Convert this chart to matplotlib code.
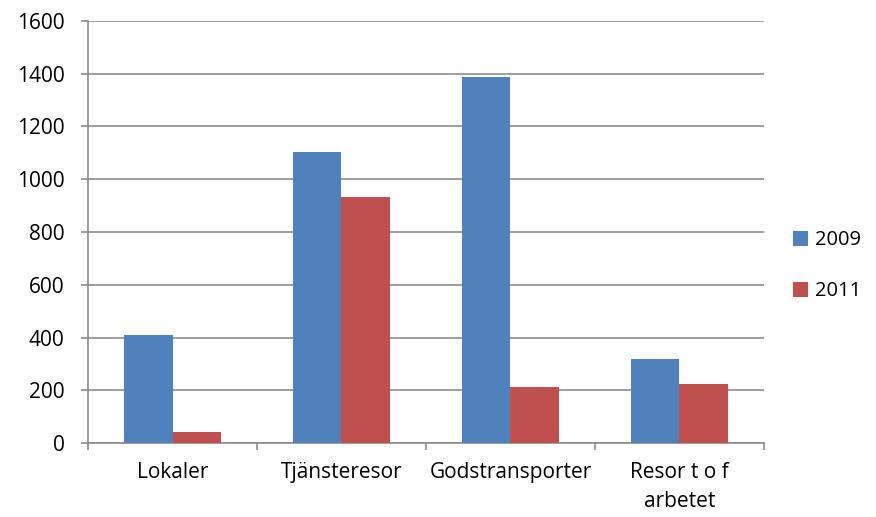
import numpy as np
import matplotlib.pyplot as plt

plt.rcParams['font.family'] = ['Open Sans', 'DejaVu Sans']

categories = ['Lokaler', 'Tjänsteresor', 'Godstransporter', 'Resor t o f\narbetet']
v2009 = [410, 1105, 1388, 320]
v2011 = [40, 933, 213, 222]

fig = plt.figure(figsize=(8.76, 5.17), dpi=100)
ax = fig.add_axes([0.1005, 0.1431, 0.7715, 0.8163])

x = np.arange(len(categories))
w = 0.287
ax.bar(x - w/2, v2009, w, color='#4F81BD', label='2009', zorder=3)
ax.bar(x + w/2, v2011, w, color='#C0504D', label='2011', zorder=3)

ax.set_xlim(-0.5, len(categories) - 0.5)
ax.set_ylim(0, 1600)
ax.set_yticks(range(0, 1601, 200))
ax.yaxis.grid(True, color='#8c8c8c', linewidth=1.2, zorder=0)

ax.set_xticks(x)
ax.set_xticklabels(categories, fontsize=15, linespacing=1.5)
ax.tick_params(axis='x', length=0, pad=14)
ax.set_xticks(np.arange(-0.5, len(categories)), minor=True)
ax.tick_params(axis='x', which='minor', length=5, color='#8c8c8c', width=1.2)
ax.tick_params(axis='y', labelsize=15, length=5, color='#8c8c8c', width=1.2, pad=12)

for s in ['top', 'right']:
    ax.spines[s].set_visible(False)
for s in ['left', 'bottom']:
    ax.spines[s].set_color('#8c8c8c')
    ax.spines[s].set_linewidth(1.2)

ax.legend(loc='center left', bbox_to_anchor=(1.022, 0.42), frameon=False,
          fontsize=14.5, handlelength=0.75, handleheight=0.75, labelspacing=1.55,
          handletextpad=0.35, borderpad=0.2)

fig.savefig('out.png', dpi=100)
